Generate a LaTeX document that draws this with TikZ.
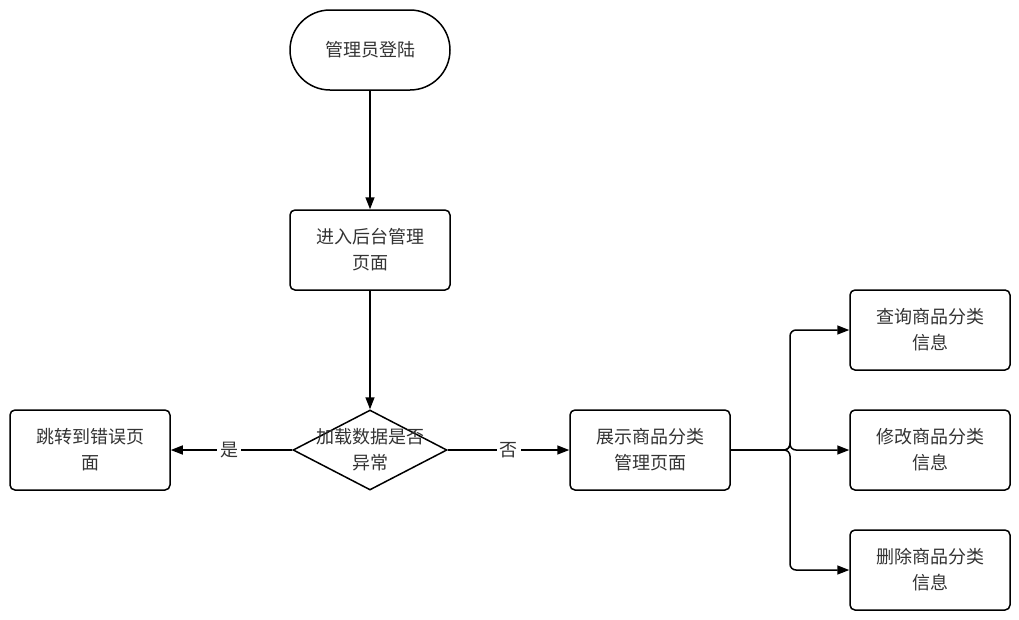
\documentclass[tikz,border=0pt]{standalone}
\usepackage{fontspec}
\newfontfamily\cjk{Noto Sans CJK SC}
\usepackage{tikz}
\usetikzlibrary{shapes,shapes.geometric,arrows,positioning,arrows.meta}
\definecolor{txtgray}{HTML}{333333}
\tikzstyle{box} = [rectangle, rounded corners=5pt, draw=black, line width=1.5pt, fill=white, text=txtgray, align=center, minimum width=160pt, minimum height=80pt, font=\cjk\fontsize{18}{26}\selectfont]
\tikzstyle{term} = [box, rounded corners=40pt]
\tikzstyle{decide} = [diamond, draw=black, line width=1.5pt, fill=white, minimum width=154pt, minimum height=80pt, inner sep=0pt]
\tikzstyle{lbl} = [text=txtgray, align=center, font=\cjk\fontsize{18}{26}\selectfont]
\tikzstyle{edgelbl} = [fill=white, text=txtgray, inner sep=3pt, font=\cjk\fontsize{18}{20}\selectfont]

\begin{document}
\begin{tikzpicture}[x=1pt, y=-1pt, >={Triangle[length=12pt,width=9pt]}]
  \useasboundingbox (0,0) rectangle (1019,619);
  % draw main flow nodes
  \node[term] (login) at (370,50) {管理员登陆};
  \node[box] (admin) at (370,250) {进入后台管理\\页面};
  \node[decide] (chk) at (370,450) {};
  \node[lbl] (chklbl) at (chk) {加载数据是否\\异常};
  \node[box] (err) at (90,450) {跳转到错误页\\面};
  \node[box] (show) at (650,450) {展示商品分类\\管理页面};
  % draw operation nodes
  \foreach \t [count=\step from 1] in {查询,修改,删除}
    \node[box] (op\step) at (930, 210+120*\step) {\t 商品分类\\信息};
  % draw main flow links
  \draw[->, line width=1.5pt] (login.south) -> (admin.north);
  \draw[->, line width=1.5pt] (admin.south) -> (chk.north);
  \draw[->, line width=1.5pt] (chk.west) -> node[edgelbl, pos=0.52] (yes) {是} (err.east);
  \draw[->, line width=1.5pt] (chk.east) -> node[edgelbl, pos=0.5] (no) {否} (show.west);
  % draw branch links
  \coordinate (fork) at (790,450);
  \foreach \step in {1,...,3}
    \draw[->, line width=1.5pt, rounded corners=6pt] (show.east) -- (fork) |- (op\step.west);
\end{tikzpicture}
\end{document}
